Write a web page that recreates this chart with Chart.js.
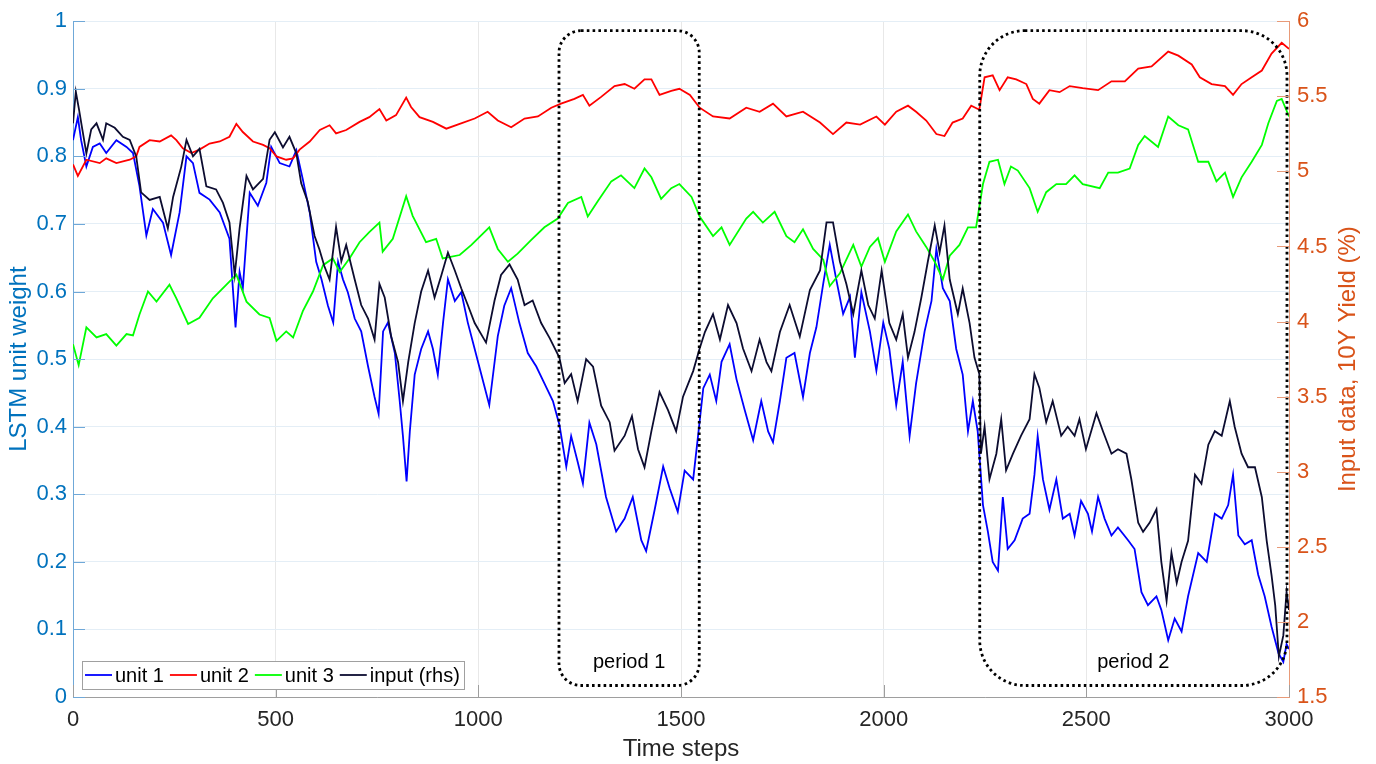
<!DOCTYPE html>
<html>
<head>
<meta charset="utf-8">
<title>LSTM unit weights vs 10Y yield</title>
<script src="https://cdn.jsdelivr.net/npm/chart.js@4.4.1/dist/chart.umd.min.js"></script>
<style>
  html, body { margin: 0; padding: 0; background: #fff; }
  #chart { display: block; }
</style>
</head>
<body>
<canvas id="chart" width="1376" height="764"></canvas>
<script>
// --- DATA ---
// units 1-3 are on the left axis, input is the 10Y yield on the right axis
const unit1Steps = [0,12,20,33,49,66,82,107,132,148,164,181,197,222,242,263,280,296,312,337,
  362,386,401,411,419,436,456,477,489,510,534,551,567,584,600,613,629,642,654,666,
  678,695,711,728,744,754,765,777,794,806,814,823,831,843,859,876,888,900,913,925,
  942,958,974,991,1027,1048,1064,1081,1101,1122,1143,1163,1184,1200,1217,1229,1245,1258,1274,1291,
  1315,1340,1361,1381,1402,1414,1435,1456,1472,1492,1509,1530,1542,1555,1571,1587,1600,1620,1637,1657,
  1678,1698,1715,1727,1744,1760,1780,1801,1818,1834,1851,1867,1883,1900,1917,1929,1945,1966,1982,1999,
  2014,2031,2047,2064,2080,2101,2118,2130,2146,2163,2179,2195,2208,2220,2232,2245,2257,2269,2282,2294,
  2306,2323,2343,2360,2372,2380,2393,2409,2426,2442,2459,2471,2487,2504,2514,2529,2545,2562,2578,2603,
  2619,2636,2652,2673,2685,2702,2718,2735,2751,2776,2797,2817,2834,2850,2862,2875,2891,2908,2924,2940,
  2957,2974,2986,2994,3000];
const unit1Values = [0.824,0.858,0.824,0.785,0.814,0.819,0.805,0.824,0.814,0.805,0.756,0.683,0.722,0.702,0.654,0.717,0.8,0.79,0.746,0.736,
  0.717,0.678,0.547,0.629,0.605,0.746,0.727,0.761,0.814,0.79,0.785,0.809,0.766,0.717,0.644,0.618,0.579,0.554,0.644,0.618,
  0.599,0.56,0.541,0.489,0.444,0.419,0.541,0.554,0.509,0.438,0.386,0.319,0.393,0.477,0.515,0.541,0.515,0.477,0.554,0.618,
  0.586,0.599,0.554,0.515,0.432,0.534,0.579,0.605,0.554,0.509,0.489,0.464,0.438,0.403,0.341,0.386,0.348,0.316,0.406,0.374,
  0.296,0.245,0.264,0.296,0.232,0.216,0.277,0.341,0.309,0.274,0.335,0.322,0.386,0.457,0.477,0.438,0.496,0.522,0.47,0.425,
  0.38,0.438,0.393,0.377,0.438,0.502,0.509,0.444,0.509,0.547,0.612,0.669,0.618,0.567,0.592,0.502,0.599,0.541,0.483,0.554,
  0.515,0.432,0.496,0.386,0.464,0.541,0.586,0.663,0.605,0.586,0.515,0.477,0.393,0.438,0.393,0.284,0.245,0.2,0.187,0.296,
  0.219,0.232,0.264,0.271,0.329,0.386,0.322,0.277,0.322,0.264,0.271,0.239,0.29,0.271,0.245,0.296,0.264,0.239,0.251,0.232,
  0.219,0.155,0.136,0.149,0.129,0.084,0.116,0.097,0.149,0.213,0.2,0.271,0.264,0.284,0.329,0.239,0.226,0.232,0.181,0.149,
  0.104,0.065,0.052,0.078,0.071];

const unit2Steps = [0,12,33,66,82,107,140,156,164,189,214,242,255,271,292,312,337,362,386,403,
  419,444,469,485,502,526,543,559,584,609,633,649,674,707,731,756,773,797,822,834,
  855,888,921,954,991,1023,1048,1081,1114,1147,1180,1204,1237,1258,1274,1303,1336,1361,1385,1410,
  1427,1447,1476,1496,1522,1546,1579,1620,1661,1694,1727,1760,1801,1843,1875,1908,1942,1982,2003,2031,
  2060,2080,2105,2130,2150,2170,2195,2216,2236,2249,2269,2286,2306,2327,2352,2368,2384,2409,2434,2459,
  2491,2529,2562,2595,2628,2661,2702,2727,2760,2780,2809,2842,2862,2883,2908,2933,2957,2982,3000];
const unit2Values = [0.788,0.771,0.795,0.79,0.797,0.79,0.795,0.8,0.814,0.824,0.822,0.831,0.824,0.812,0.805,0.81,0.819,0.822,0.829,0.848,
  0.836,0.822,0.817,0.812,0.8,0.795,0.797,0.81,0.822,0.839,0.846,0.834,0.839,0.851,0.858,0.87,0.853,0.861,0.887,0.873,
  0.858,0.851,0.841,0.848,0.856,0.866,0.853,0.843,0.856,0.859,0.872,0.878,0.885,0.891,0.875,0.888,0.904,0.907,0.9,0.914,
  0.914,0.891,0.897,0.9,0.891,0.872,0.859,0.856,0.872,0.866,0.878,0.859,0.866,0.85,0.833,0.85,0.847,0.859,0.847,0.866,
  0.875,0.866,0.853,0.833,0.83,0.85,0.856,0.875,0.869,0.917,0.92,0.898,0.917,0.914,0.907,0.885,0.878,0.898,0.895,0.904,
  0.901,0.898,0.911,0.911,0.93,0.933,0.955,0.949,0.936,0.917,0.907,0.904,0.891,0.907,0.917,0.927,0.952,0.968,0.959];

const unit3Steps = [0,14,33,58,82,107,132,148,164,185,206,238,255,284,312,345,378,403,428,460,
  485,502,526,543,567,592,617,641,658,682,707,731,756,764,789,822,838,871,896,912,
  954,983,1027,1048,1073,1097,1130,1163,1196,1221,1254,1270,1295,1328,1352,1385,1410,1427,1451,1476,
  1496,1526,1546,1579,1600,1620,1661,1678,1702,1731,1760,1780,1801,1826,1851,1867,1892,1925,1945,1966,
  1986,2003,2031,2060,2080,2105,2126,2146,2163,2187,2208,2228,2245,2261,2282,2298,2314,2331,2360,2380,
  2401,2426,2450,2471,2491,2533,2554,2578,2607,2628,2644,2677,2702,2727,2751,2776,2801,2821,2842,2862,
  2883,2908,2933,2949,2970,2982,3000];
const unit3Values = [0.522,0.491,0.547,0.532,0.537,0.52,0.537,0.535,0.566,0.6,0.585,0.61,0.59,0.552,0.561,0.59,0.61,0.625,0.585,0.566,
  0.561,0.527,0.541,0.532,0.571,0.6,0.639,0.649,0.629,0.649,0.673,0.688,0.702,0.659,0.678,0.741,0.712,0.673,0.678,0.649,
  0.654,0.669,0.695,0.663,0.644,0.656,0.676,0.695,0.708,0.731,0.74,0.711,0.734,0.763,0.772,0.753,0.782,0.769,0.737,0.753,
  0.759,0.74,0.711,0.682,0.695,0.669,0.708,0.718,0.702,0.718,0.682,0.673,0.692,0.663,0.647,0.608,0.627,0.669,0.637,0.666,
  0.679,0.644,0.689,0.714,0.689,0.666,0.644,0.618,0.653,0.669,0.695,0.695,0.759,0.792,0.795,0.759,0.785,0.779,0.753,0.718,
  0.747,0.759,0.759,0.772,0.759,0.753,0.776,0.776,0.782,0.817,0.83,0.814,0.859,0.846,0.84,0.792,0.792,0.763,0.776,0.74,
  0.769,0.792,0.817,0.849,0.882,0.885,0.859];

const inputSteps = [0,7,15,23,33,45,58,74,82,103,123,140,156,168,189,214,234,247,267,280,
  296,312,329,353,370,386,399,411,428,444,469,485,498,518,534,551,563,579,596,608,
  620,633,649,662,674,695,711,728,744,756,769,785,802,814,827,843,859,876,892,909,
  925,942,958,974,991,1019,1040,1056,1077,1097,1114,1134,1155,1176,1200,1213,1229,1245,1266,1283,
  1303,1324,1336,1361,1379,1394,1410,1427,1447,1468,1488,1505,1530,1546,1559,1579,1596,1616,1637,1653,
  1674,1694,1711,1723,1744,1768,1793,1818,1843,1859,1875,1892,1908,1925,1945,1962,1978,1995,2014,2031,
  2047,2060,2076,2093,2109,2126,2138,2150,2163,2183,2195,2212,2224,2236,2240,2249,2261,2278,2290,2302,
  2319,2339,2360,2372,2384,2401,2417,2438,2454,2471,2483,2499,2525,2541,2562,2578,2599,2611,2628,2640,
  2656,2673,2685,2698,2710,2723,2735,2751,2768,2784,2801,2817,2834,2854,2866,2883,2899,2916,2933,2945,
  2957,2966,2975,2986,2994,3000];
const inputYield = [5.32,5.53,5.41,5.28,5.12,5.28,5.32,5.21,5.32,5.29,5.23,5.21,5.10,4.86,4.81,4.83,4.62,4.83,5.03,5.21,
  5.10,5.15,4.90,4.88,4.79,4.66,4.31,4.62,4.97,4.88,4.95,5.21,5.26,5.16,5.23,5.12,4.92,4.80,4.57,4.48,
  4.37,4.28,4.63,4.40,4.51,4.28,4.11,4.02,3.88,4.25,4.16,3.90,3.73,3.47,3.73,3.99,4.20,4.34,4.16,4.31,
  4.46,4.34,4.22,4.11,3.99,3.86,4.14,4.31,4.38,4.28,4.11,4.14,3.99,3.89,3.76,3.59,3.65,3.47,3.75,3.70,
  3.44,3.33,3.14,3.24,3.37,3.15,3.03,3.27,3.53,3.41,3.27,3.50,3.67,3.82,3.93,4.05,3.88,4.11,3.99,3.82,
  3.67,3.88,3.73,3.67,3.93,4.11,3.90,4.21,4.34,4.66,4.66,4.40,4.25,4.05,4.34,4.11,4.02,4.34,3.99,3.88,
  4.05,3.76,3.93,4.16,4.40,4.64,4.46,4.64,4.28,4.05,4.22,3.99,3.76,3.65,3.12,3.30,2.95,3.12,3.35,3.01,
  3.12,3.24,3.35,3.65,3.56,3.33,3.47,3.24,3.30,3.24,3.35,3.15,3.39,3.27,3.12,3.15,3.12,2.95,2.66,2.60,
  2.66,2.75,2.40,2.14,2.46,2.26,2.40,2.54,2.98,2.92,3.18,3.27,3.24,3.47,3.30,3.12,3.03,3.03,2.83,2.54,
  2.31,2.11,1.77,1.91,2.20,2.08];

const xTickValues = [0, 500, 1000, 1500, 2000, 2500, 3000];
const leftTickValues = [0, 0.1, 0.2, 0.3, 0.4, 0.5, 0.6, 0.7, 0.8, 0.9, 1];
const rightTickValues = [1.5, 2, 2.5, 3, 3.5, 4, 4.5, 5, 5.5, 6];

const periodLabels = ['period 1', 'period 2'];
const periodStart = [1199, 2237];
const periodEnd = [1545, 2995];

// --- STYLE ---
const FONT = "'Liberation Sans', Arial, Helvetica, sans-serif";
const LEFT_COLOR = '#0072BD';
const RIGHT_COLOR = '#D95319';
const PERIOD_TOP = 0.986;     // in left-axis units
const PERIOD_BOTTOM = 0.017;
const periodRadius = [22, 45];

function toPoints(xs, ys) {
  return xs.map((x, i) => ({ x: x, y: ys[i] }));
}

function setTicks(values) {
  return (scale) => { scale.ticks = values.map(v => ({ value: v })); };
}

const lineDefaults = { borderWidth: 1.8, pointRadius: 0, tension: 0, fill: false };

const figureExtras = {
  id: 'figureExtras',
  afterDatasetsDraw(chart) {
    const { ctx, scales } = chart;
    ctx.save();
    periodLabels.forEach((label, i) => {
      const x0 = scales.x.getPixelForValue(periodStart[i]);
      const x1 = scales.x.getPixelForValue(periodEnd[i]);
      const y0 = scales.y.getPixelForValue(PERIOD_TOP);
      const y1 = scales.y.getPixelForValue(PERIOD_BOTTOM);
      ctx.strokeStyle = '#000';
      ctx.lineWidth = 2.8;
      ctx.setLineDash([2.6, 3.2]);
      ctx.beginPath();
      ctx.roundRect(x0, y0, x1 - x0, y1 - y0, periodRadius[i]);
      ctx.stroke();
      ctx.setLineDash([]);
      ctx.fillStyle = '#000';
      ctx.font = '20px ' + FONT;
      ctx.textAlign = 'center';
      ctx.textBaseline = 'middle';
      ctx.fillText(label, (x0 + x1) / 2, y1 - 23);
    });
    ctx.restore();
  },
  afterDraw(chart) {
    const { ctx, chartArea: a, scales } = chart;
    ctx.save();

    // inward tick marks, MATLAB style
    ctx.lineWidth = 1;
    ctx.strokeStyle = '#6fa8d8';
    leftTickValues.forEach(v => {
      const py = Math.round(scales.y.getPixelForValue(v)) + 0.5;
      ctx.beginPath(); ctx.moveTo(a.left, py); ctx.lineTo(a.left + 12, py); ctx.stroke();
    });
    ctx.strokeStyle = '#e89a78';
    rightTickValues.forEach(v => {
      const py = Math.round(scales.y2.getPixelForValue(v)) + 0.5;
      ctx.beginPath(); ctx.moveTo(a.right - 12, py); ctx.lineTo(a.right, py); ctx.stroke();
    });
    ctx.strokeStyle = '#9e9e9e';
    xTickValues.forEach(v => {
      const px = Math.round(scales.x.getPixelForValue(v)) + 0.5;
      ctx.beginPath(); ctx.moveTo(px, a.bottom); ctx.lineTo(px, a.bottom - 12); ctx.stroke();
    });

    // right axis title reads bottom to top
    ctx.translate(1348, (a.top + a.bottom) / 2);
    ctx.rotate(-Math.PI / 2);
    ctx.fillStyle = RIGHT_COLOR;
    ctx.font = '24px ' + FONT;
    ctx.textAlign = 'center';
    ctx.textBaseline = 'middle';
    ctx.fillText('Input data, 10Y Yield (%)', 0, 0);
    ctx.restore();

    // legend box, bottom left inside the axes
    ctx.save();
    ctx.font = '20px ' + FONT;
    const sets = chart.data.datasets;
    const widths = sets.map(d => ctx.measureText(d.label).width);
    const boxLeft = a.left + 9;
    const boxTop = a.bottom - 36;
    const boxH = 28;
    let boxW = 3;
    widths.forEach((w, i) => { boxW += 30 + w + (i < widths.length - 1 ? 6 : 4); });
    ctx.fillStyle = '#fff';
    ctx.fillRect(boxLeft, boxTop, boxW, boxH);
    ctx.strokeStyle = '#a0a0a0';
    ctx.lineWidth = 1;
    ctx.strokeRect(Math.round(boxLeft) + 0.5, Math.round(boxTop) + 0.5, Math.round(boxW), boxH);
    let x = boxLeft + 3;
    const cy = boxTop + boxH / 2;
    sets.forEach((d, i) => {
      ctx.strokeStyle = d.borderColor;
      ctx.lineWidth = 1.8;
      ctx.beginPath(); ctx.moveTo(x, cy); ctx.lineTo(x + 27, cy); ctx.stroke();
      ctx.fillStyle = '#000';
      ctx.textAlign = 'left';
      ctx.textBaseline = 'middle';
      ctx.fillText(d.label, x + 30, cy + 1);
      x += 30 + widths[i] + 6;
    });
    ctx.restore();
  }
};

new Chart(document.getElementById('chart'), {
  type: 'line',
  data: {
    datasets: [
      { ...lineDefaults, label: 'unit 1', data: toPoints(unit1Steps, unit1Values), borderColor: '#0000ff', yAxisID: 'y', order: 3 },
      { ...lineDefaults, label: 'unit 2', data: toPoints(unit2Steps, unit2Values), borderColor: '#ff0000', yAxisID: 'y', order: 2 },
      { ...lineDefaults, label: 'unit 3', data: toPoints(unit3Steps, unit3Values), borderColor: '#00ff00', yAxisID: 'y', order: 1 },
      { ...lineDefaults, label: 'input (rhs)', data: toPoints(inputSteps, inputYield), borderColor: '#0c0c30', yAxisID: 'y2', order: 0 }
    ]
  },
  options: {
    responsive: false,
    animation: false,
    devicePixelRatio: 1,
    layout: { padding: { top: 13, left: 0, right: 0, bottom: 0 } },
    plugins: { legend: { display: false }, tooltip: { enabled: false } },
    scales: {
      x: {
        type: 'linear', min: 0, max: 3000,
        afterBuildTicks: setTicks(xTickValues),
        afterFit: (s) => { s.height = 67; },
        ticks: { color: '#262626', font: { family: FONT, size: 22 }, padding: 10, maxRotation: 0, autoSkip: false, callback: v => String(v) },
        grid: { color: '#e8e8e8', drawTicks: false },
        border: { color: '#9e9e9e', width: 1 },
        title: { display: true, text: 'Time steps', color: '#262626', font: { family: FONT, size: 24 }, padding: { top: 0, bottom: 0 } }
      },
      y: {
        position: 'left', min: 0, max: 1,
        afterBuildTicks: setTicks(leftTickValues),
        afterFit: (s) => { s.width = 73; },
        ticks: { color: LEFT_COLOR, font: { family: FONT, size: 22 }, padding: 6, autoSkip: false, callback: v => String(v) },
        grid: { color: '#e4eef6', drawTicks: false },
        border: { color: '#6fa8d8', width: 1 },
        title: { display: true, text: 'LSTM unit weight', color: LEFT_COLOR, font: { family: FONT, size: 24 }, padding: { top: 5, bottom: 0 } }
      },
      y2: {
        position: 'right', min: 1.5, max: 6,
        afterBuildTicks: setTicks(rightTickValues),
        afterFit: (s) => { s.width = 87; },
        ticks: { color: RIGHT_COLOR, font: { family: FONT, size: 22 }, padding: 8, autoSkip: false, callback: v => String(v) },
        grid: { drawOnChartArea: false, drawTicks: false },
        border: { color: '#e89a78', width: 1 }
      }
    }
  },
  plugins: [figureExtras]
});
</script>
</body>
</html>
